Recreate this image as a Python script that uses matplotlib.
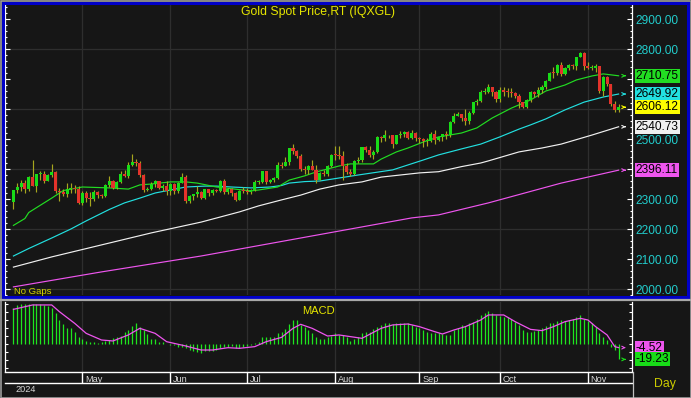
import numpy as np
import pandas as pd
import matplotlib
matplotlib.use('Agg')
import matplotlib.pyplot as plt
from matplotlib.patches import Rectangle
from matplotlib.lines import Line2D
from matplotlib.ticker import MultipleLocator, FuncFormatter, NullFormatter

plt.rcParams['font.family'] = ['Liberation Sans', 'DejaVu Sans']

# ---- data ----
dates = pd.bdate_range('2024-04-05', '2024-11-13')

opens = [
    # Apr
    2290, 2329, 2339, 2352, 2333, 2372, 2344, 2383, 2383, 2361, 2379, 2391, 2327, 2322, 2316, 2332, 2337, 2335,
    # May
    2286, 2320, 2304, 2301, 2323, 2314, 2309, 2346, 2360, 2336, 2358, 2385, 2376, 2415, 2425, 2421, 2379, 2329,
    2334, 2351, 2360, 2338, 2343,
    # Jun
    2327, 2350, 2327, 2355, 2375, 2294, 2311, 2316, 2325, 2303, 2333, 2319, 2329, 2327, 2360, 2322, 2334, 2319,
    2298, 2327,
    # Jul
    2326, 2322, 2330, 2356, 2356, 2392, 2358, 2364, 2371, 2415, 2411, 2422, 2469, 2459, 2445, 2400, 2396, 2409,
    2397, 2364, 2387, 2384, 2410,
    # Aug
    2447, 2446, 2443, 2410, 2390, 2382, 2427, 2431, 2472, 2465, 2447, 2456, 2507, 2504, 2514, 2512, 2484, 2512,
    2517, 2525, 2504, 2521,
    # Sep
    2503, 2500, 2493, 2495, 2516, 2497, 2506, 2516, 2512, 2558, 2578, 2582, 2569, 2559, 2587, 2622, 2628, 2657,
    2657, 2672, 2658,
    # Oct
    2634, 2662, 2658, 2656, 2653, 2644, 2622, 2608, 2631, 2657, 2649, 2663, 2674, 2693, 2721, 2720, 2748, 2716,
    2736, 2747, 2743, 2774, 2788,
    # Nov
    2744, 2736, 2736, 2743, 2659, 2706, 2684, 2618, 2598,
]
highs = [
    2331, 2354, 2365, 2362, 2378, 2431, 2385, 2392, 2393, 2385, 2418, 2395, 2336, 2335, 2352, 2353, 2346, 2345,
    2326, 2326, 2323, 2331, 2327, 2317, 2351, 2378, 2364, 2361, 2392, 2398, 2422, 2450, 2432, 2426, 2385, 2341,
    2358, 2364, 2361, 2351, 2360,
    2354, 2352, 2357, 2387, 2379, 2313, 2317, 2342, 2326, 2335, 2334, 2334, 2334, 2365, 2368, 2336, 2336, 2324,
    2331, 2339,
    2336, 2335, 2364, 2363, 2393, 2393, 2368, 2375, 2424, 2425, 2440, 2470, 2483, 2465, 2450, 2411, 2412, 2431,
    2412, 2390, 2397, 2413, 2451,
    2477, 2477, 2461, 2419, 2401, 2430, 2439, 2474, 2477, 2477, 2462, 2509, 2510, 2531, 2515, 2514, 2513, 2527,
    2528, 2526, 2529, 2524,
    2507, 2503, 2503, 2523, 2529, 2508, 2518, 2528, 2560, 2586, 2590, 2584, 2600, 2595, 2625, 2633, 2664, 2670,
    2685, 2674, 2661,
    2673, 2672, 2671, 2670, 2656, 2649, 2625, 2634, 2661, 2660, 2673, 2679, 2696, 2722, 2740, 2749, 2758, 2740,
    2750, 2749, 2774, 2790, 2790,
    2758, 2748, 2750, 2745, 2711, 2710, 2685, 2626, 2618,
]
lows = [
    2267, 2321, 2326, 2319, 2326, 2342, 2325, 2365, 2355, 2360, 2372, 2320, 2292, 2310, 2307, 2320, 2321, 2285,
    2281, 2291, 2277, 2292, 2305, 2303, 2306, 2340, 2332, 2335, 2354, 2372, 2370, 2410, 2409, 2374, 2325, 2326,
    2331, 2340, 2334, 2327, 2315,
    2314, 2316, 2319, 2354, 2287, 2286, 2296, 2308, 2301, 2299, 2310, 2312, 2322, 2325, 2316, 2318, 2310, 2293,
    2298, 2319,
    2318, 2316, 2327, 2351, 2352, 2350, 2352, 2358, 2366, 2404, 2409, 2412, 2451, 2438, 2393, 2384, 2385, 2398,
    2353, 2364, 2377, 2378, 2408,
    2429, 2432, 2364, 2385, 2376, 2380, 2419, 2424, 2458, 2440, 2432, 2455, 2490, 2494, 2502, 2471, 2482, 2505,
    2508, 2499, 2500, 2492,
    2488, 2472, 2476, 2490, 2485, 2495, 2495, 2500, 2508, 2553, 2576, 2561, 2546, 2550, 2584, 2614, 2624, 2650,
    2655, 2645, 2625,
    2624, 2643, 2640, 2640, 2636, 2605, 2604, 2603, 2624, 2640, 2641, 2655, 2667, 2692, 2704, 2713, 2709, 2714,
    2731, 2732, 2730, 2772, 2730,
    2732, 2730, 2725, 2652, 2643, 2677, 2610, 2589, 2590,
]
closes = [
    2329, 2339, 2352, 2333, 2372, 2344, 2383, 2383, 2361, 2379, 2391, 2327, 2322, 2316, 2332, 2337, 2335, 2286,
    2320, 2304, 2301, 2323, 2314, 2309, 2346, 2360, 2336, 2358, 2385, 2376, 2415, 2425, 2421, 2379, 2329, 2334,
    2351, 2360, 2338, 2343, 2327,
    2350, 2327, 2355, 2375, 2294, 2311, 2316, 2325, 2303, 2333, 2319, 2329, 2327, 2360, 2322, 2334, 2319, 2298,
    2327, 2326,
    2322, 2330, 2356, 2356, 2392, 2358, 2364, 2371, 2415, 2411, 2422, 2469, 2459, 2445, 2400, 2396, 2409, 2397,
    2364, 2387, 2384, 2410, 2447,
    2446, 2443, 2410, 2390, 2382, 2427, 2431, 2472, 2465, 2447, 2456, 2507, 2504, 2514, 2512, 2484, 2512, 2517,
    2525, 2504, 2521, 2503,
    2500, 2493, 2495, 2516, 2497, 2506, 2516, 2512, 2558, 2578, 2582, 2569, 2559, 2587, 2622, 2628, 2657, 2657,
    2672, 2658, 2634,
    2662, 2658, 2656, 2653, 2644, 2622, 2608, 2631, 2657, 2649, 2663, 2674, 2693, 2721, 2720, 2748, 2716, 2736,
    2747, 2743, 2774, 2788, 2744,
    2736, 2736, 2743, 2659, 2706, 2684, 2618, 2598, 2606.12,
]

# moving averages, read at sample bars (bar index, value)
ma20_idx = [0, 3, 4, 10, 13, 18, 25, 30, 33, 36, 41, 45, 48, 53, 62, 64, 69, 72, 76, 79,
            85, 88, 94, 96, 100, 103, 107, 111, 117, 121, 125, 130, 135, 139, 144, 147, 151, 154, 158]
ma20_val = [2212, 2235, 2255, 2303, 2328, 2340, 2337, 2333, 2347, 2350, 2357, 2357, 2353, 2340, 2327, 2330,
            2340, 2363, 2377, 2390, 2410, 2417, 2417, 2433, 2457, 2470, 2490, 2507, 2520, 2537, 2570, 2603,
            2630, 2660, 2680, 2697, 2710, 2717, 2710.75]
ma50_idx = [0, 4, 10, 15, 19, 25, 29, 33, 37, 41, 45, 50, 53, 57, 62, 67, 70, 72, 76, 80,
            85, 90, 99, 107, 111, 117, 122, 127, 132, 135, 139, 144, 149, 154, 158]
ma50_val = [2110, 2135, 2170, 2200, 2227, 2265, 2287, 2303, 2320, 2330, 2340, 2343, 2343, 2340, 2337, 2340,
            2345, 2353, 2358, 2360, 2370, 2380, 2397, 2430, 2447, 2467, 2483, 2507, 2533, 2547, 2567, 2597,
            2623, 2640, 2649.92]
ma100_idx = [0, 10, 23, 36, 49, 59, 64, 70, 75, 80, 85, 91, 96, 101, 106, 111, 117, 122, 124, 132,
             138, 143, 151, 158]
ma100_val = [2073, 2107, 2147, 2187, 2223, 2257, 2277, 2297, 2313, 2333, 2347, 2357, 2373, 2380, 2387, 2391,
             2408, 2420, 2427, 2457, 2470, 2483, 2513, 2540.73]
ma200_idx = [0, 23, 49, 75, 104, 111, 124, 143, 158]
ma200_val = [2007, 2057, 2110, 2170, 2237, 2247, 2287, 2353, 2396.11]

# MACD bars, one per day
macd = [
    44.6, 48.8, 50, 50, 50, 50, 50, 50, 48.8, 47.5,
    44.6, 38.3, 30, 24.6, 19.6, 19.6, 15.4, 8.3, 5.8, 3.8,
    2.9, 2.1, 0.8, 2.5, 3.3, 5.0, 7.1, 8.3, 10.0, 14.6,
    17.5, 22.5, 25.8, 21.7, 17.5, 12.1, 5.8, 5.8, 2.9, 2.9,
    0, -1.2, -1.2, -3.3, -3.3, -5.4, -7.5, -8.8, -9.6, -10.8,
    -8.3, -8.3, -8.3, -7.5, -5.4, -4.2, -4.2, -2.5, -5.4, -5.4,
    -4.2, -2.5, -1.2, 1.7, 2.9, 8.3, 8.3, 8.3, 9.2, 13.3,
    15.4, 18.3, 25.0, 30.0, 30.0, 23.8, 21.7, 17.5, 13.3, 9.2,
    5.8, 5.8, 8.3, 10.0, 14.2, 11.3,
    11.3, 8.3, 4.2, 5.8, 8.3, 13.3, 15.4, 15.4, 18.3, 21.7,
    23.8, 26.7, 26.7, 25.0, 25.8, 26.7, 25.8, 25.8, 23.8, 21.7,
    19.6, 17.5, 15.4, 14.2, 13.3, 13.3, 12.5, 11.3, 11.3, 17.5,
    19.6, 23.8, 22.5, 25.8, 27.9, 30.8, 36.3, 39.2, 41.3, 38.3,
    36.3, 35.0, 34.2, 33.3, 30.8, 27.9, 23.8, 17.5, 15.4, 15.4,
    16.7, 17.5, 19.6, 22.5, 25.8, 26.7, 29.2, 30.0, 29.2, 30.0,
    30.8, 33.3, 36.3, 30.8, 29.2, 25.8, 21.7, 13.3, 9.2, 5.0,
    -3.3, -7.5, -19.23,
]
sig_idx = [0, 5, 10, 12, 16, 19, 23, 26, 30, 33, 37, 40, 45, 49, 52, 56, 59, 63, 66, 70,
           73, 75, 78, 82, 85, 91, 96, 99, 103, 106, 110, 112, 115, 118, 122, 124, 128, 131, 135, 138,
           141, 144, 148, 150, 152, 155, 157, 158]
sig_val = [43.3, 48.8, 48.8, 40.4, 25.8, 13.3, 5.0, 3.8, 11.3, 19.6, 13.3, 2.9, -2.5, -7.5, -7.5, -4.6,
           -5.4, -3.3, 2.9, 8.3, 19.6, 24.6, 19.6, 10.0, 11.3, 7.1, 19.6, 23.8, 25.0, 21.7, 15.4, 12.5,
           17.5, 21.7, 30.0, 36.3, 36.3, 27.9, 18.3, 16.7, 21.7, 27.9, 32.1, 30.0, 21.7, 11.3, -3.3, -4.52]

# ---- style ----
W, H = 691, 398
BG = '#161616'
GRID = '#2e2e2e'
UP, DOWN, WICK = '#18dc18', '#e3332b', '#a6a61e'
CYAN_TXT = '#22cccc'
YEL = '#e6e600'
C20, C50, C100, C200, CLAST = '#22dd22', '#22e0e0', '#f0f0f0', '#ee55ee', '#ffff00'


def box(x0, y0, x1, y1):
    return [x0 / W, 1 - y1 / H, (x1 - x0) / W, (y1 - y0) / H]


fig = plt.figure(figsize=(W / 100, H / 100), dpi=100, facecolor=BG)
ax = fig.add_axes(box(5, 5, 632, 295))
axm = fig.add_axes(box(5, 302, 632, 372))
axd = fig.add_axes(box(5, 372, 632, 383))

idx = np.arange(len(dates))
o, h, l, c = (np.array(a, dtype=float) for a in (opens, highs, lows, closes))
month_idx = [i for i in range(1, len(dates)) if dates[i].month != dates[i - 1].month]
XL = (-2.2, 161.5)

# ---- price panel ----
ax.set_facecolor(BG)
ax.set_xlim(*XL)
ax.set_ylim(1980, 2946.7)
for p in range(2000, 2900, 200):
    ax.axhline(p, color=GRID, lw=0.9, zorder=0)
for i in month_idx:
    ax.axvline(i, color=GRID, lw=0.9, zorder=0)

ax.vlines(idx, l, h, color=WICK, lw=0.85, zorder=3)
up = c >= o
ax.bar(idx, np.maximum(np.abs(c - o), 2.5), bottom=np.minimum(o, c), width=0.8,
       color=np.where(up, UP, DOWN), linewidth=0, zorder=4)

for xs, ys, col in [(ma200_idx, ma200_val, C200), (ma100_idx, ma100_val, C100),
                    (ma50_idx, ma50_val, C50), (ma20_idx, ma20_val, C20)]:
    ax.plot(xs, ys, color=col, lw=0.85, zorder=2)

boxes = [(ma20_val[-1], C20), (ma50_val[-1], C50), (closes[-1], CLAST),
         (ma100_val[-1], C100), (ma200_val[-1], C200)]


def price_fmt(v, pos):
    if any(abs(v - b) < 35 for b, _ in boxes):
        return ''
    return f'{v:.2f}'


ax.yaxis.set_major_locator(MultipleLocator(100))
ax.yaxis.set_minor_locator(MultipleLocator(20))
ax.yaxis.set_major_formatter(FuncFormatter(price_fmt))
ax.yaxis.set_minor_formatter(NullFormatter())
ax.tick_params(axis='y', which='both', direction='in', colors='white', left=True, right=True,
               labelleft=False, labelright=True, labelcolor=CYAN_TXT, labelsize=8.6, pad=2.2)
ax.tick_params(axis='y', which='major', length=3.6, width=0.8)
ax.tick_params(axis='y', which='minor', length=1.6, width=0.8)
ax.set_xticks([])
for s in ('top', 'bottom'):
    ax.spines[s].set_visible(False)
for s in ('left', 'right'):
    ax.spines[s].set_color('white')
    ax.spines[s].set_linewidth(0.9)

for v, col in boxes:
    ax.annotate('', xy=(160.6, v), xytext=(158.9, v),
                arrowprops=dict(arrowstyle='->', color=col, lw=0.8, mutation_scale=5), zorder=5)
    ax.text(1.0058, v, f'{v:.2f}', transform=ax.get_yaxis_transform(), ha='left', va='center',
            fontsize=8.6, color='black', clip_on=False, zorder=6,
            bbox=dict(boxstyle='square,pad=0.08', fc=col, ec='none'))

fig.text(318 / W, 1 - 12 / H, 'Gold Spot Price,RT (IQXGL)', color=YEL, fontsize=8.8,
         ha='center', va='center')
fig.text(14 / W, 1 - 291 / H, 'No Gaps', color='#d4d400', fontsize=6.8, ha='left', va='center')

# ---- MACD panel ----
axm.set_facecolor(BG)
axm.set_xlim(*XL)
axm.set_ylim(-35, 52.5)
for i in month_idx:
    axm.axvline(i, color=GRID, lw=0.9, zorder=0)
axm.vlines(idx, 0, macd, color='#1ee61e', lw=0.9, zorder=2)
axm.plot(sig_idx, sig_val, color=C200, lw=0.9, zorder=3)
axm.yaxis.set_major_locator(MultipleLocator(10))
axm.tick_params(axis='y', direction='in', colors='white', left=True, right=True,
                labelleft=False, labelright=False, length=2.4, width=0.8)
axm.set_xticks([])
for s in ('top', 'bottom'):
    axm.spines[s].set_visible(False)
for s in ('left', 'right'):
    axm.spines[s].set_color('white')
    axm.spines[s].set_linewidth(0.9)
axm.text(0.5, 0.87, 'MACD', transform=axm.transAxes, color=YEL, fontsize=8,
         ha='center', va='center')
for v, col in [(sig_val[-1], C200), (macd[-1], UP)]:
    axm.annotate('', xy=(160.6, v), xytext=(158.9, v),
                 arrowprops=dict(arrowstyle='->', color=col, lw=0.8, mutation_scale=5), zorder=5)
    axm.text(1.0058, v, f'{v:.2f}', transform=axm.get_yaxis_transform(), ha='left', va='center',
             fontsize=8.6, color='black', clip_on=False, zorder=6,
             bbox=dict(boxstyle='square,pad=0.08', fc=col, ec='none'))

# ---- date strip ----
axd.set_facecolor(BG)
axd.set_xlim(*XL)
axd.set_ylim(0, 1)
axd.set_xticks([])
axd.set_yticks([])
for s in ('left', 'right'):
    axd.spines[s].set_visible(False)
for s in ('top', 'bottom'):
    axd.spines[s].set_color('white')
    axd.spines[s].set_linewidth(1.0)
axd.vlines(month_idx, 0, 1, color='white', lw=1.0)
for i in month_idx:
    axd.text(i + 0.7, 0.35, dates[i].strftime('%b'), color='#d8d8d8', fontsize=6.6,
             ha='left', va='center', clip_on=True)
fig.text(15 / W, 1 - 389.5 / H, '2024', color='#d8d8d8', fontsize=6.6, ha='left', va='center')
fig.text(665 / W, 1 - 384 / H, 'Day', color='#cccc00', fontsize=8.8, ha='center', va='center')

# ---- frames ----
fig.add_artist(Line2D([0, 1], [1 - 300 / H] * 2, color='#a8a8a8', lw=1.6))
fig.add_artist(Line2D([632.5 / W] * 2, [0, 1 - 372 / H], color='#c0c0c0', lw=0.9))
fig.add_artist(Rectangle((2.75 / W, 1 - 296.5 / H), 685.5 / W, 293.75 / H, fill=False,
                         ec='#0000c8', lw=2.2))
fig.add_artist(Rectangle((0.5 / W, 0.5 / H), 690 / W, 397 / H, fill=False, ec='#9c9c9c', lw=1.2))

fig.savefig('out.png', dpi=100, facecolor=BG)
